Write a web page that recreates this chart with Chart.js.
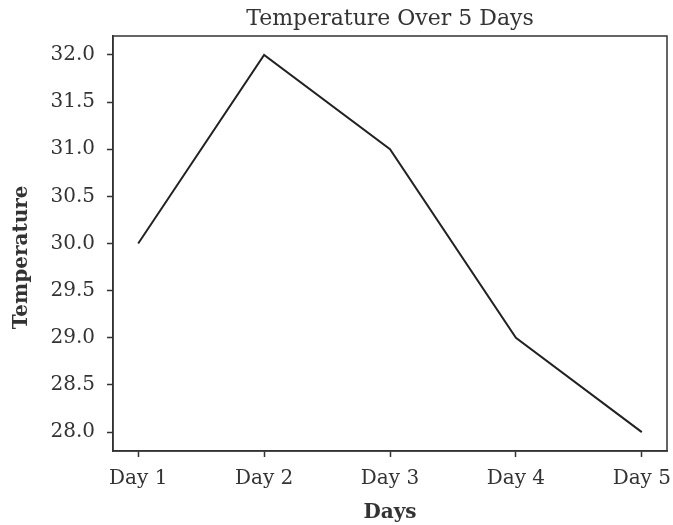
<!DOCTYPE html>
<html>
<head>
<meta charset="utf-8">
<script src="https://cdn.jsdelivr.net/npm/chart.js@4/dist/chart.umd.min.js"></script>
<style>
html,body{margin:0;padding:0;background:#ffffff;}
#wrap{width:673px;height:525px;position:relative;}
</style>
</head>
<body>
<div id="wrap"><canvas id="c" width="673" height="525"></canvas></div>
<script>
const categories = ["Day 1", "Day 2", "Day 3", "Day 4", "Day 5"];
const temperatures = [30.0, 32.0, 31.0, 29.0, 28.0];
const yTickValues = [28.0, 28.5, 29.0, 29.5, 30.0, 30.5, 31.0, 31.5, 32.0];
const chartTitle = "Temperature Over 5 Days";
const xTitle = "Days";
const yTitle = "Temperature";

const ink = '#333333';
const serif = "'DejaVu Serif', serif";

const points = temperatures.map((v, i) => ({ x: i + 1, y: v }));

const framePlugin = {
  id: 'frame',
  afterDraw(chart) {
    const a = chart.chartArea, ctx = chart.ctx;
    ctx.save();
    ctx.strokeStyle = ink;
    ctx.lineWidth = 1.5;
    ctx.strokeRect(a.left, a.top, a.right - a.left, a.bottom - a.top);
    ctx.restore();
  }
};

new Chart(document.getElementById('c'), {
  type: 'line',
  data: {
    datasets: [{
      data: points,
      borderColor: '#222222',
      borderWidth: 2,
      pointRadius: 0,
      tension: 0,
      fill: false
    }]
  },
  options: {
    responsive: false,
    animation: false,
    devicePixelRatio: 1,
    layout: { padding: { top: 0, right: 6, left: 0, bottom: 0 } },
    plugins: {
      legend: { display: false },
      tooltip: { enabled: false },
      title: {
        display: true,
        fullSize: false,
        text: chartTitle,
        color: ink,
        font: { family: serif, size: 22, weight: 'normal', lineHeight: 1.2 },
        padding: { top: 6, bottom: 3.6 }
      }
    },
    scales: {
      x: {
        type: 'linear',
        min: 0.8,
        max: 5.2,
        afterBuildTicks(scale) {
          scale.ticks = categories.map((c, i) => ({ value: i + 1 }));
        },
        afterFit(scale) {
          scale.height = 74;
          scale.paddingLeft = 0;
          scale.paddingRight = 0;
        },
        ticks: {
          color: ink,
          font: { family: serif, size: 20 },
          padding: 10,
          maxRotation: 0,
          autoSkip: false,
          callback: (v) => categories[Math.round(v) - 1]
        },
        grid: { drawOnChartArea: false, drawTicks: true, tickLength: 6, color: ink, tickWidth: 1.5 },
        border: { display: true, color: ink, width: 1.5 },
        title: {
          display: true,
          text: xTitle,
          color: ink,
          font: { family: serif, size: 20, weight: 'bold' },
          padding: { top: 4, bottom: 0 }
        }
      },
      y: {
        type: 'linear',
        min: 27.8,
        max: 32.2,
        afterBuildTicks(scale) {
          scale.ticks = yTickValues.map(v => ({ value: v }));
        },
        afterFit(scale) { scale.width = 113; },
        ticks: {
          color: ink,
          font: { family: serif, size: 20 },
          padding: 12,
          callback: (v) => Number(v).toFixed(1)
        },
        grid: { drawOnChartArea: false, drawTicks: true, tickLength: 6, color: ink, tickWidth: 1.5 },
        border: { display: true, color: ink, width: 1.5 },
        title: {
          display: true,
          text: yTitle + "    ",
          color: ink,
          font: { family: serif, size: 20, weight: 'bold' },
          padding: { top: 10, bottom: 4 }
        }
      }
    }
  },
  plugins: [framePlugin]
});
</script>
</body>
</html>
